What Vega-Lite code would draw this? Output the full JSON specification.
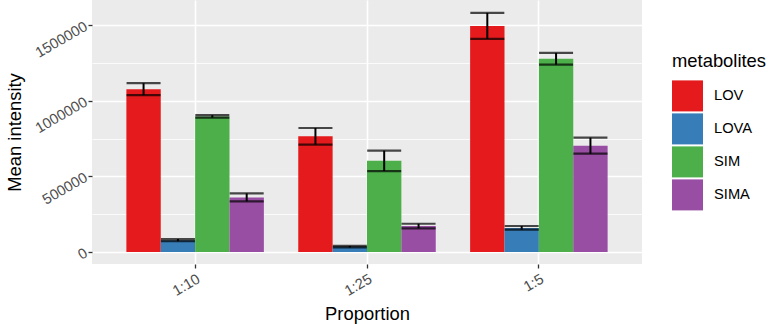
{
  "$schema": "https://vega.github.io/schema/vega-lite/v6.json",
  "width": 550,
  "height": 264,
  "autosize": {"type": "none"},
  "padding": {"left": 92, "top": 0, "right": 128, "bottom": 60},
  "background": "white",
  "config": {
    "font": "Liberation Sans",
    "view": {"fill": "#EBEBEB", "stroke": null},
    "axis": {"domain": false, "tickColor": "#333333", "tickSize": 4, "tickWidth": 1.3, "labelColor": "#4D4D4D", "labelFontSize": 14.7, "titleFontSize": 18.4, "titleFontWeight": "normal", "titleColor": "#000000", "gridColor": "#FFFFFF", "gridWidth": 1.6}
  },
  "data": {"values": [
    {"Proportion": "1:10", "metabolites": "LOV", "mean": 1077000, "lo": 1038000, "hi": 1118000},
    {"Proportion": "1:10", "metabolites": "LOVA", "mean": 78000, "lo": 72000, "hi": 86000},
    {"Proportion": "1:10", "metabolites": "SIM", "mean": 897000, "lo": 890000, "hi": 906000},
    {"Proportion": "1:10", "metabolites": "SIMA", "mean": 360000, "lo": 335000, "hi": 388000},
    {"Proportion": "1:25", "metabolites": "LOV", "mean": 766000, "lo": 711000, "hi": 821000},
    {"Proportion": "1:25", "metabolites": "LOVA", "mean": 34000, "lo": 30000, "hi": 40000},
    {"Proportion": "1:25", "metabolites": "SIM", "mean": 604000, "lo": 536000, "hi": 671000},
    {"Proportion": "1:25", "metabolites": "SIMA", "mean": 172000, "lo": 157000, "hi": 187000},
    {"Proportion": "1:5", "metabolites": "LOV", "mean": 1497000, "lo": 1411000, "hi": 1583000},
    {"Proportion": "1:5", "metabolites": "LOVA", "mean": 159000, "lo": 148000, "hi": 172000},
    {"Proportion": "1:5", "metabolites": "SIM", "mean": 1279000, "lo": 1241000, "hi": 1318000},
    {"Proportion": "1:5", "metabolites": "SIMA", "mean": 704000, "lo": 651000, "hi": 757000}
  ]},
  "encoding": {
    "x": {"field": "Proportion", "type": "nominal", "sort": ["1:10", "1:25", "1:5"],
      "scale": {"paddingInner": 0.2, "paddingOuter": 0.2},
      "axis": {"title": "Proportion", "labelAngle": -30, "labelAlign": "right", "labelBaseline": "top", "grid": true, "labelPadding": 3, "titlePadding": 6}},
    "xOffset": {"field": "metabolites", "type": "nominal", "scale": {"paddingInner": 0, "paddingOuter": 0}}
  },
  "resolve": {"axis": {"y": "independent"}},
  "layer": [
    {
      "mark": {"type": "bar"},
      "encoding": {
        "y": {"field": "mean", "type": "quantitative", "scale": {"domain": [-79500, 1668500], "nice": false, "zero": false},
          "axis": {"title": "Mean intensity", "values": [0, 500000, 1000000, 1500000], "format": "d", "labelAngle": -30, "labelAlign": "right", "labelBaseline": "middle", "labelPadding": 2, "titlePadding": 8}},
        "color": {"field": "metabolites", "type": "nominal",
          "scale": {"domain": ["LOV", "LOVA", "SIM", "SIMA"], "range": ["#E41A1C", "#377EB8", "#4DAF4A", "#984EA3"]},
          "legend": {"title": "metabolites", "orient": "none", "legendX": 580, "legendY": 52, "symbolType": "square", "symbolSize": 961, "symbolStrokeWidth": 0, "symbolOpacity": 1, "labelFontSize": 14.7, "titleFontSize": 18.4, "titleFontWeight": "normal", "titlePadding": 10, "rowPadding": 2, "labelOffset": 11, "labelColor": "#000000"}}
      }
    },
    {
      "mark": {"type": "rule", "color": "black", "strokeWidth": 2},
      "encoding": {
        "y": {"field": "lo", "type": "quantitative",
          "axis": {"orient": "right", "values": [250000, 750000, 1250000], "grid": true, "gridWidth": 0.8, "labels": false, "ticks": false, "title": null}},
        "y2": {"field": "hi"}
      }
    },
    {
      "mark": {"type": "tick", "color": "black", "thickness": 2.2, "size": 34},
      "encoding": {"y": {"field": "lo", "type": "quantitative", "axis": null}}
    },
    {
      "mark": {"type": "tick", "color": "black", "thickness": 2.2, "size": 34},
      "encoding": {"y": {"field": "hi", "type": "quantitative", "axis": null}}
    }
  ]
}
